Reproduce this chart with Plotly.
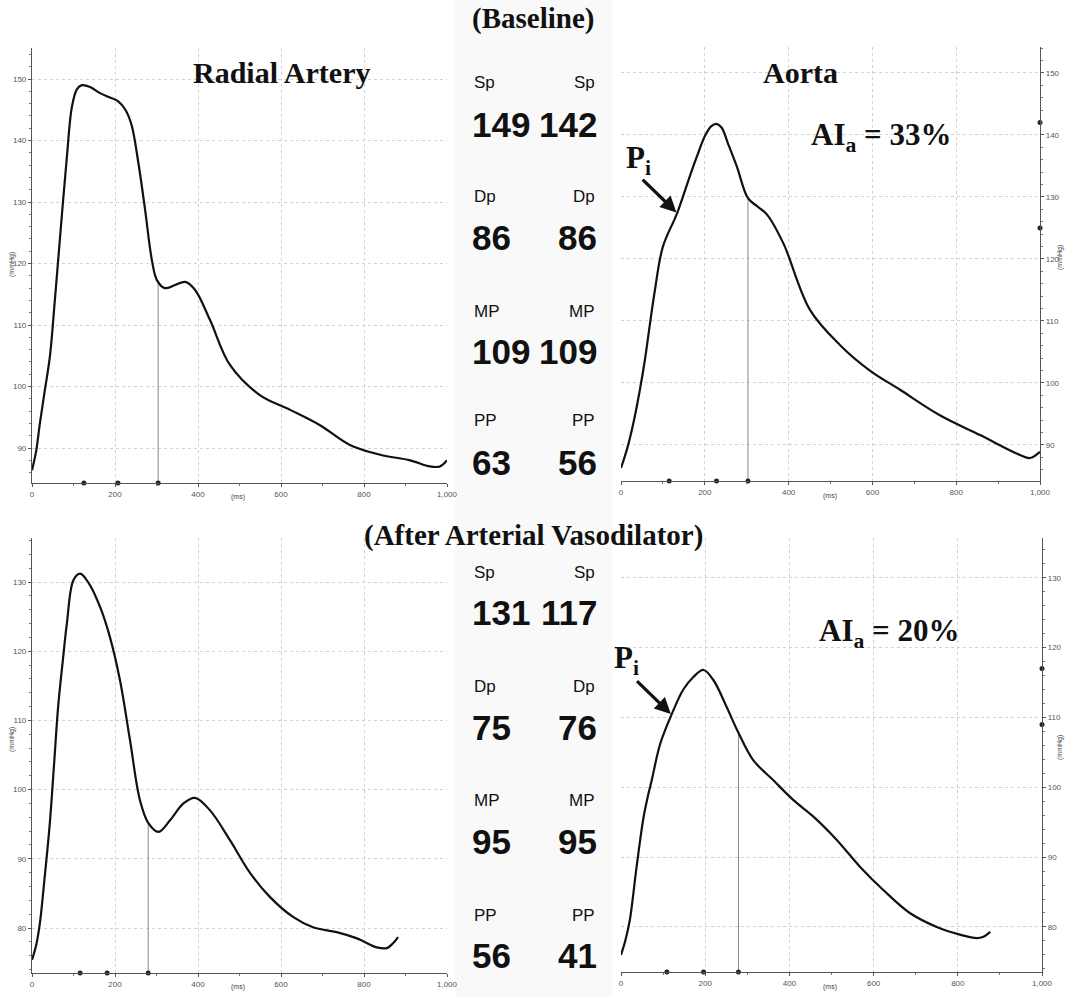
import numpy as np
import plotly.graph_objects as go

W, H = 1066, 997

# ---------------- data ----------------
radial_base_ms = [0, 10, 19, 30, 43, 55, 67, 84, 96, 108, 120, 140, 164, 188, 207, 225, 240, 256, 272, 289, 301,
                  320, 345, 369, 393, 429, 477, 549, 622, 694, 766, 839, 911, 959, 983, 1000]
radial_base_mmhg = [86.4, 89.5, 94, 99, 104.8, 114, 123.8, 137.3, 145.4, 148.3, 149, 148.7, 147.7, 147, 146.4,
                    145, 142.5, 136.5, 129, 120.5, 117.3, 116, 116.5, 117, 115.7, 110.8, 103.5, 98.6, 96.2, 93.7,
                    90.5, 88.9, 88, 87, 87, 88]

aorta_base_ms = [0, 15, 31, 44, 57, 69, 81, 100, 134, 165, 181, 200, 215, 228, 240, 256, 277, 303, 325, 348, 387,
                 451, 523, 594, 666, 761, 857, 952, 976, 1000]
aorta_base_mmhg = [86.3, 89.5, 94, 98.5, 103.7, 109.5, 115, 122, 127.4, 133.5, 136.5, 139.8, 141.4, 141.8, 141.2,
                   138.5, 134.8, 129.8, 128.5, 127.2, 122.6, 111.8, 106.1, 102, 98.9, 94.8, 91.6, 88.4, 87.9, 88.9]

radial_vaso_ms = [0, 10, 19, 30, 43, 53, 63, 74, 84, 100, 116, 136, 164, 188, 212, 236, 260, 280, 305, 333, 365,
                  393, 429, 477, 525, 573, 629, 677, 734, 783, 831, 855, 870, 882]
radial_vaso_mmhg = [75.4, 77.5, 80.7, 87, 95.2, 103.5, 112, 118.5, 124, 130.3, 131.2, 129.9, 126.4, 122, 115.8,
                    107.2, 98.5, 95.2, 93.9, 95.6, 98, 98.8, 97, 92.7, 88, 84.5, 81.6, 80.1, 79.4, 78.5, 77.2,
                    77.1, 77.8, 78.7]

aorta_vaso_ms = [0, 10, 21, 37, 53, 63, 73, 93, 120, 148, 172, 196, 219, 251, 279, 314, 362, 409, 457, 512, 568,
                 623, 686, 750, 805, 845, 861, 877]
aorta_vaso_mmhg = [76, 78, 81, 88.6, 95.5, 98.5, 101, 106.2, 110.4, 114, 115.8, 116.8, 115.4, 111.5, 107.8, 103.9,
                   101, 98.2, 95.8, 92.5, 88.6, 85.3, 82, 80, 78.9, 78.4, 78.6, 79.3]

# time markers on the x axes (ms) and the systolic-end vertical line
radial_base_marks = [125, 207, 304]
aorta_base_marks = [115, 228, 303]
radial_vaso_marks = [116, 181, 280]
aorta_vaso_marks = [109, 196, 279]

# markers on the right (aortic) pressure axes
aorta_base_axis_marks = [142, 125]
aorta_vaso_axis_marks = [117, 109]

# inflection point (Pi) times
aorta_base_pi_ms = 134
aorta_vaso_pi_ms = 120

x_tickvals = [0, 200, 400, 600, 800, 1000]
x_ticktext = ["0", "200", "400", "600", "800", "1,000"]

center_labels = ["Sp", "Dp", "MP", "PP"]
baseline_radial_vals = ["149", "86", "109", "63"]
baseline_aorta_vals = ["142", "86", "109", "56"]
vaso_radial_vals = ["131", "75", "95", "56"]
vaso_aorta_vals = ["117", "76", "95", "41"]

# ---------------- layout helpers ----------------
def px_x(p):
    return p / W


def px_y(p):
    return 1 - p / H


panels = [
    dict(x=(32, 447), y=(48, 483), yr=(84.31, 155.04), side="left"),
    dict(x=(621, 1040), y=(47, 481), yr=(84.19, 154.19), side="right"),
    dict(x=(32, 447), y=(538, 973), yr=(73.5, 136.36), side="left"),
    dict(x=(621, 1042), y=(538, 972), yr=(73.55, 135.7), side="right"),
]

fig = go.Figure()

tick_font = dict(family="Liberation Sans, Arial", size=8, color="#555")
grid_col = "#d2d2d2"

layout = dict(
    width=W, height=H,
    margin=dict(l=0, r=0, t=0, b=0, autoexpand=False),
    paper_bgcolor="white", plot_bgcolor="rgba(0,0,0,0)",
    showlegend=False,
)

for i, p in enumerate(panels):
    n = "" if i == 0 else str(i + 1)
    layout["xaxis" + n] = dict(
        domain=[px_x(p["x"][0]), px_x(p["x"][1])], anchor="y" + n, range=[0, 1000],
        tickvals=x_tickvals, ticktext=x_ticktext, tickfont=tick_font, automargin=False,
        showline=True, linecolor="#555", linewidth=1.2,
        ticks="outside", ticklen=3, tickcolor="#555",
        minor=dict(dtick=100, ticks="outside", ticklen=2, tickcolor="#777", showgrid=False),
        showgrid=True, gridcolor=grid_col, griddash="dot", gridwidth=1,
        zeroline=False, fixedrange=True,
    )
    layout["yaxis" + n] = dict(
        domain=[px_y(p["y"][1]), px_y(p["y"][0])], anchor="x" + n, range=list(p["yr"]),
        dtick=10, tickfont=tick_font, side=p["side"], automargin=False,
        showline=True, linecolor="#555", linewidth=1.2,
        ticks="outside", ticklen=3, tickcolor="#555",
        minor=dict(dtick=2, ticks="outside", ticklen=2, tickcolor="#777", showgrid=False),
        showgrid=True, gridcolor=grid_col, griddash="dot", gridwidth=1,
        zeroline=False, fixedrange=True,
    )

# faint scanned-gray band in the centre
layout["shapes"] = [dict(type="rect", xref="paper", yref="paper", x0=px_x(455), x1=px_x(612), y0=0, y1=1,
                         fillcolor="rgba(0,0,0,0.025)", line=dict(width=0), layer="below")]

fig.update_layout(**layout)

series = [
    (radial_base_ms, radial_base_mmhg, radial_base_marks, None),
    (aorta_base_ms, aorta_base_mmhg, aorta_base_marks, aorta_base_axis_marks),
    (radial_vaso_ms, radial_vaso_mmhg, radial_vaso_marks, None),
    (aorta_vaso_ms, aorta_vaso_mmhg, aorta_vaso_marks, aorta_vaso_axis_marks),
]

for i, (xs, ys, marks, axmarks) in enumerate(series):
    n = "" if i == 0 else str(i + 1)
    xa, ya = "x" + n, "y" + n
    ymin = panels[i]["yr"][0]
    t_end = marks[-1]
    v_end = float(np.interp(t_end, xs, ys))
    fig.add_trace(go.Scatter(x=[t_end, t_end], y=[ymin, v_end], mode="lines",
                             line=dict(color="#888", width=1), xaxis=xa, yaxis=ya, hoverinfo="skip"))
    fig.add_trace(go.Scatter(x=xs, y=ys, mode="lines",
                             line=dict(color="#111", width=2.2, shape="spline", smoothing=1.0),
                             xaxis=xa, yaxis=ya, hoverinfo="skip"))
    fig.add_trace(go.Scatter(x=marks, y=[ymin] * len(marks), mode="markers",
                             marker=dict(color="#222", size=5), cliponaxis=False,
                             xaxis=xa, yaxis=ya, hoverinfo="skip"))
    if axmarks:
        fig.add_trace(go.Scatter(x=[1000] * len(axmarks), y=axmarks, mode="markers",
                                 marker=dict(color="#222", size=5), cliponaxis=False,
                                 xaxis=xa, yaxis=ya, hoverinfo="skip"))

ann = []
title_font = dict(family="Liberation Serif, Times New Roman", size=29, color="#111")
head_font = dict(family="Liberation Serif, Times New Roman", size=30, color="#111")


def text(xp, yp, s, font, xanchor="center", yanchor="middle", angle=0):
    ann.append(dict(x=px_x(xp), y=px_y(yp), xref="paper", yref="paper", text=s, showarrow=False,
                    font=font, xanchor=xanchor, yanchor=yanchor, textangle=angle))


text(533, 18, "<b>(Baseline)</b>", title_font)
text(281, 72, "<b>Radial Artery</b>", head_font)
text(800, 72, "<b>Aorta</b>", head_font)
text(533, 535, "<b>(After Arterial Vasodilator)</b>", title_font)

ai_font = dict(family="Liberation Serif, Times New Roman", size=31, color="#111")
text(881, 137, "<b>AI<sub>a</sub> = 33%</b>", ai_font)
text(889, 633, "<b>AI<sub>a</sub> = 20%</b>", ai_font)
text(638, 160, "<b>P<sub>i</sub></b>", ai_font)
text(626, 660, "<b>P<sub>i</sub></b>", ai_font)

for n, xs, ys, tpi in [("2", aorta_base_ms, aorta_base_mmhg, aorta_base_pi_ms),
                       ("4", aorta_vaso_ms, aorta_vaso_mmhg, aorta_vaso_pi_ms)]:
    ann.append(dict(x=tpi, y=float(np.interp(tpi, xs, ys)), xref="x" + n, yref="y" + n, text="",
                    showarrow=True, arrowhead=2, arrowsize=1, arrowwidth=3.2, arrowcolor="#111",
                    ax=-36, ay=-35, standoff=1))

lab_font = dict(family="Liberation Sans, Arial", size=17, color="#111")
num_font = dict(family="Liberation Sans, Arial", size=35, color="#111")
top_lab_y = [82, 197, 311, 421]
top_num_y = [124, 237, 351, 463]
bot_lab_y = [572, 686, 800, 915]
bot_num_y = [612, 727, 841, 955]
for k in range(4):
    text(472, top_lab_y[k], center_labels[k], lab_font, xanchor="left")
    text(597, top_lab_y[k], center_labels[k], lab_font, xanchor="right")
    text(470, top_num_y[k], "<b>" + baseline_radial_vals[k] + "</b>", num_font, xanchor="left")
    text(599, top_num_y[k], "<b>" + baseline_aorta_vals[k] + "</b>", num_font, xanchor="right")
    text(472, bot_lab_y[k], center_labels[k], lab_font, xanchor="left")
    text(597, bot_lab_y[k], center_labels[k], lab_font, xanchor="right")
    text(470, bot_num_y[k], "<b>" + vaso_radial_vals[k] + "</b>", num_font, xanchor="left")
    text(599, bot_num_y[k], "<b>" + vaso_aorta_vals[k] + "</b>", num_font, xanchor="right")

unit_font = dict(family="Liberation Sans, Arial", size=7, color="#444")
text(12, 265, "(mmHg)", unit_font, angle=-90)
text(1060, 258, "(mmHg)", unit_font, angle=-90)
text(12, 740, "(mmHg)", unit_font, angle=-90)
text(1060, 748, "(mmHg)", unit_font, angle=-90)
text(238, 497, "(ms)", unit_font)
text(830, 496, "(ms)", unit_font)
text(238, 987, "(ms)", unit_font)
text(830, 987, "(ms)", unit_font)

fig.update_layout(annotations=ann)

fig.write_html("out.html", config={"displayModeBar": False},
               post_script="document.body.style.margin='0';document.body.style.padding='0';"
                           "document.body.style.overflow='hidden';")
